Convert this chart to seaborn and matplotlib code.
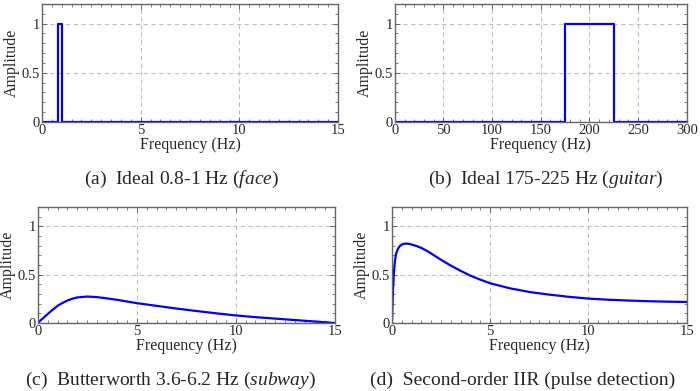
import numpy as np
import pandas as pd
import matplotlib
matplotlib.use("Agg")
import matplotlib.pyplot as plt
from matplotlib.ticker import MultipleLocator
import seaborn as sns

# (a) ideal band-pass 0.8-1 Hz
face_f = [0, 0.8, 0.8, 1.0, 1.0, 15]
face_a = [0, 0, 1, 1, 0, 0]

# (b) ideal band-pass 175-225 Hz
guitar_f = [0, 175, 175, 225, 225, 300]
guitar_a = [0, 0, 1, 1, 0, 0]

# (c) Butterworth 3.6-6.2 Hz
subway_f = [0, 0.25, 0.5, 0.75, 1, 1.25, 1.5, 1.75, 2, 2.5, 3, 3.5, 4, 4.5,
            5, 6, 7, 8, 9, 10, 11, 12, 13, 14, 15]
subway_a = [0, 0.047, 0.092, 0.136, 0.177, 0.207, 0.232, 0.251, 0.264,
            0.273, 0.267, 0.254, 0.239, 0.222, 0.205, 0.177, 0.149, 0.124,
            0.1, 0.078, 0.06, 0.045, 0.03, 0.015, 0.0]

# (d) second-order IIR
pulse_f = [0, 0.03, 0.06, 0.1, 0.15, 0.2, 0.3, 0.4, 0.5, 0.6, 0.75, 0.9,
           1.0, 1.25, 1.5, 1.75, 2, 2.5, 3, 3.5, 4, 4.5, 5, 6, 7, 8, 9, 10,
           11, 12, 13, 14, 15]
pulse_a = [0, 0.22, 0.38, 0.53, 0.64, 0.71, 0.765, 0.795, 0.81, 0.818, 0.82,
           0.816, 0.81, 0.795, 0.775, 0.748, 0.717, 0.652, 0.592, 0.538,
           0.488, 0.447, 0.41, 0.358, 0.32, 0.293, 0.27, 0.252, 0.24, 0.232,
           0.225, 0.22, 0.217]

captions = [
    r"(a)  Ideal 0.8-1 Hz ($\mathit{face}$)",
    r"(b)  Ideal 175-225 Hz ($\mathit{guitar}$)",
    r"(c)  Butterworth 3.6-6.2 Hz ($\mathit{subway}$)",
    "(d)  Second-order IIR (pulse detection)",
]

sns.set_style("ticks")
plt.rcParams["font.family"] = ["Liberation Serif", "DejaVu Serif"]
plt.rcParams["mathtext.fontset"] = "custom"
plt.rcParams["mathtext.rm"] = "Liberation Serif"
plt.rcParams["mathtext.it"] = "Liberation Serif:italic"

fig = plt.figure(figsize=(7, 3.91), dpi=100)

panels = [
    (face_f, face_a, 15, 5, 0.5, [0.060, 0.688, 0.423, 0.302]),
    (guitar_f, guitar_a, 300, 50, 10, [0.564, 0.688, 0.417, 0.302]),
    (subway_f, subway_a, 15, 5, 0.5, [0.054, 0.174, 0.424, 0.297]),
    (pulse_f, pulse_a, 15, 5, 0.5, [0.560, 0.174, 0.421, 0.297]),
]
cap_pos = [(0.26, 0.54), (0.78, 0.54), (0.243, 0.028), (0.747, 0.028)]

frame = "#666666"
for (f, a, xmax, xmaj, xmin, rect), cap, (cx, cy) in zip(panels, captions, cap_pos):
    ax = fig.add_axes(rect)
    df = pd.DataFrame({"f": f, "a": a})
    sns.lineplot(data=df, x="f", y="a", ax=ax, color="#0000ff", lw=1.6,
                 sort=False, estimator=None)
    ax.set_xlim(0, xmax)
    ax.set_ylim(0, 1.2)
    ax.xaxis.set_major_locator(MultipleLocator(xmaj))
    ax.xaxis.set_minor_locator(MultipleLocator(xmin))
    ax.set_yticks([0, 0.5, 1])
    ax.set_yticklabels(["0", "0.5", "1"])
    ax.yaxis.set_minor_locator(MultipleLocator(0.1))
    ax.grid(True, which="major", ls=(0, (4, 3)), color="#c0c0c0", lw=0.8)
    ax.tick_params(which="both", direction="in", top=True, right=True,
                   color=frame, labelsize=10.5, pad=1.5)
    ax.tick_params(which="major", length=3.5, width=0.7)
    ax.tick_params(which="minor", length=2, width=0.6)
    for s in ax.spines.values():
        s.set_color(frame)
        s.set_linewidth(1.0)
    ax.set_xlabel("Frequency (Hz)", fontsize=11.5, labelpad=0)
    ax.set_ylabel("Amplitude", fontsize=11.5, labelpad=1)
    fig.text(cx, cy, cap, ha="center", va="center", fontsize=14)

fig.savefig("out.png", dpi=100)
